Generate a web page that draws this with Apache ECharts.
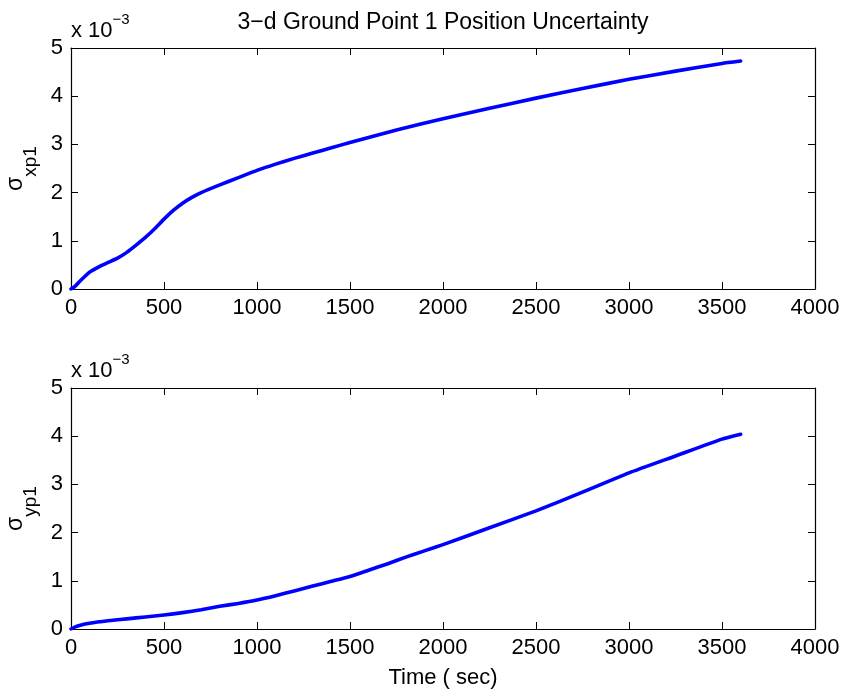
<!DOCTYPE html>
<html>
<head>
<meta charset="utf-8">
<script src="https://cdn.jsdelivr.net/npm/echarts@6/dist/echarts.min.js"></script>
<style>html,body{margin:0;padding:0;background:#fff}#c{width:846px;height:692px}</style>
</head>
<body>
<div id="c"></div>
<script>
// Data
const titleText = '3\u2212d Ground Point 1 Position Uncertainty';
const xAxisLabel = 'Time ( sec)';
const xTicks = [0, 500, 1000, 1500, 2000, 2500, 3000, 3500, 4000];
const yTicks = [0, 1, 2, 3, 4, 5];          // in units of 1e-3
const timeX = [0, 20, 50, 100, 150, 200, 250, 300, 350, 400, 450, 500, 550, 600, 650, 700, 800, 900, 1000, 1100, 1200, 1300, 1400, 1500, 1750, 2000, 2250, 2500, 2750, 3000, 3250, 3500, 3600];
const sigmaX = [0, 0.05, 0.17, 0.35, 0.46, 0.55, 0.64, 0.76, 0.91, 1.07, 1.25, 1.45, 1.63, 1.78, 1.90, 2.00, 2.16, 2.31, 2.46, 2.59, 2.71, 2.82, 2.93, 3.04, 3.30, 3.53, 3.75, 3.96, 4.16, 4.35, 4.52, 4.68, 4.73];
const timeY = [0, 20, 50, 100, 200, 300, 400, 500, 600, 700, 800, 900, 1000, 1100, 1200, 1300, 1400, 1500, 1600, 1700, 1800, 1900, 2000, 2250, 2500, 2750, 3000, 3250, 3500, 3600];
const sigmaY = [0, 0.04, 0.08, 0.12, 0.17, 0.21, 0.25, 0.29, 0.34, 0.40, 0.47, 0.53, 0.60, 0.69, 0.79, 0.89, 0.99, 1.09, 1.22, 1.35, 1.49, 1.62, 1.75, 2.10, 2.45, 2.84, 3.24, 3.59, 3.94, 4.04];
const scaleExp = -3;

const FONT = '"Liberation Sans", Arial, Helvetica, sans-serif';
const FS = 22;
const chart = echarts.init(document.getElementById('c'), null, {renderer: 'canvas'});

const grids = [
  {left: 71, right: 31, top: 48, height: 241, containLabel: false, outerBoundsMode: 'none'},
  {left: 71, right: 31, top: 388, height: 241, containLabel: false, outerBoundsMode: 'none'}
];
const tickStyle = {show: true, inside: true, length: 7, lineStyle: {color: '#000', width: 1}};
const axisLine = {show: true, onZero: false, lineStyle: {color: '#000', width: 1.2}};
const plainFmt = (v) => String(Math.round(v));

const xAxes = [], yAxes = [];
grids.forEach((g, i) => {
  xAxes.push({
    type: 'value', gridIndex: i, position: 'bottom',
    min: xTicks[0], max: xTicks[xTicks.length - 1], interval: xTicks[1] - xTicks[0],
    axisLine, axisTick: tickStyle, splitLine: {show: false},
    axisLabel: {color: '#000', fontFamily: FONT, fontSize: FS, margin: 8, formatter: plainFmt},
    name: i === 1 ? xAxisLabel : '', nameLocation: 'middle', nameGap: 38,
    nameTextStyle: {color: '#000', fontFamily: FONT, fontSize: FS}
  });
  xAxes.push({
    type: 'value', gridIndex: i, position: 'top',
    min: xTicks[0], max: xTicks[xTicks.length - 1], interval: xTicks[1] - xTicks[0],
    axisLine, axisTick: tickStyle, splitLine: {show: false}, axisLabel: {show: false}
  });
  yAxes.push({
    type: 'value', gridIndex: i, position: 'left',
    min: yTicks[0], max: yTicks[yTicks.length - 1], interval: yTicks[1] - yTicks[0],
    axisLine, axisTick: tickStyle, splitLine: {show: false},
    axisLabel: {color: '#000', fontFamily: FONT, fontSize: FS, margin: 8, formatter: plainFmt},
    name: i === 0 ? '{s|\u03c3}{sub|xp1}' : '{s|\u03c3}{sub|yp1}',
    nameLocation: 'middle', nameRotate: 90, nameGap: 25,
    nameTextStyle: {
      color: '#000', fontFamily: FONT,
      rich: {
        s: {fontSize: 23, fontFamily: FONT, color: '#000', verticalAlign: 'top', lineHeight: 36},
        sub: {fontSize: 19, fontFamily: FONT, color: '#000', verticalAlign: 'bottom', lineHeight: 36}
      }
    }
  });
  yAxes.push({
    type: 'value', gridIndex: i, position: 'right',
    min: yTicks[0], max: yTicks[yTicks.length - 1], interval: yTicks[1] - yTicks[0],
    axisLine, axisTick: tickStyle, splitLine: {show: false}, axisLabel: {show: false}
  });
});

const lineStyle = {color: '#0000ff', width: 3.6, cap: 'round', join: 'round'};
const expText = (y) => ({
  type: 'text', left: 71, top: y,
  style: {
    text: '{a|x 10}{b|\u2212' + Math.abs(scaleExp) + '}',
    rich: {
      a: {fontSize: FS, fontFamily: FONT, fill: '#000', verticalAlign: 'bottom', lineHeight: 30},
      b: {fontSize: 15, fontFamily: FONT, fill: '#000', verticalAlign: 'top', lineHeight: 30}
    }
  }
});

chart.setOption({
  animation: false,
  backgroundColor: '#fff',
  grid: grids,
  xAxis: xAxes,
  yAxis: yAxes,
  series: [
    {type: 'line', xAxisIndex: 0, yAxisIndex: 0, data: timeX.map((t, k) => [t, sigmaX[k]]),
     showSymbol: false, smooth: 0.15, lineStyle, silent: true},
    {type: 'line', xAxisIndex: 2, yAxisIndex: 2, data: timeY.map((t, k) => [t, sigmaY[k]]),
     showSymbol: false, smooth: 0.15, lineStyle, silent: true}
  ],
  graphic: [
    {type: 'text', x: 443, y: 23,
     style: {text: titleText, font: '23px ' + FONT, fill: '#000', textAlign: 'center', textVerticalAlign: 'middle'}},
    expText(12),
    expText(352)
  ]
});
</script>
</body>
</html>
